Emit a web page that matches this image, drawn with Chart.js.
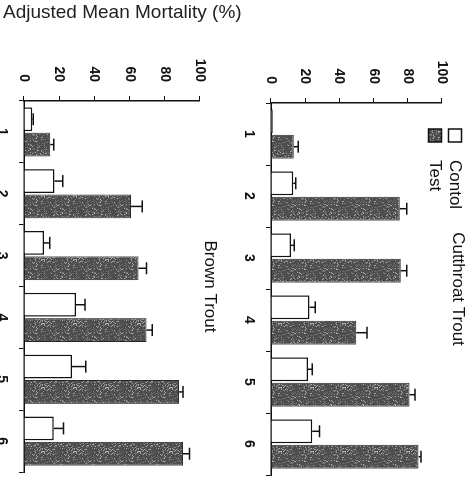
<!DOCTYPE html>
<html lang="en">
<head>
<meta charset="UTF-8">
<title>Adjusted Mean Mortality</title>
<script src="https://cdn.jsdelivr.net/npm/chart.js"></script>
<style>
    body { margin: 0; background: #fff; overflow: hidden; font-family: "Liberation Sans", Arial, sans-serif; }
    #ytitle { position: absolute; left: 3px; top: 0; font-size: 19px; line-height: 24px; color: #222; white-space: nowrap; }
    /* figure is drawn upright, then turned a quarter clockwise like the scan */
    #figure { position: absolute; left: 0; top: 0; width: 486px; height: 474px;
              transform-origin: 0 0; transform: translate(474px, 0) rotate(90deg); }
    canvas { display: block; }
</style>
</head>
<body>
<div id="figure">
    <canvas id="cutthroat" width="486" height="237"></canvas>
    <canvas id="brown" width="486" height="237"></canvas>
</div>
<div id="ytitle">Adjusted Mean Mortality (%)</div>

<script>
    const categories = ['1', '2', '3', '4', '5', '6'];
    const valueTicks = [0, 20, 40, 60, 80, 100];

    const cutControl    = [1, 13, 11.7, 22.6, 21.7, 24.2];
    const cutControlErr = [0, 1.5, 2, 3.4, 2.5, 4.2];
    const cutTest       = [13.4, 75.4, 76, 49.9, 81.2, 86.4];
    const cutTestErr    = [2.5, 4.2, 3.6, 6.3, 3.2, 1.5];

    const brownControl    = [4.7, 17.4, 11.4, 29.6, 27.3, 16.9];
    const brownControlErr = [0.5, 4.7, 3.2, 5.2, 7.9, 5.6];
    const brownTest       = [15, 61, 65.2, 69.8, 88.2, 90.6];
    const brownTestErr    = [1.9, 6.4, 4.6, 3.2, 2.4, 3.6];

    Chart.defaults.font.family = '"Liberation Sans", Arial, sans-serif';
    Chart.defaults.color = '#111';

    // grainy dark fill like the printed test bars (fixed seed, texture only)
    function speckle() {
        const c = document.createElement('canvas');
        c.width = c.height = 32;
        const g = c.getContext('2d');
        g.fillStyle = '#4e4e4e';
        g.fillRect(0, 0, 32, 32);
        let s = 12345;
        const next = () => (s = (s * 16807) % 2147483647) / 2147483647;
        for (let y = 0; y < 32; y++) {
            for (let x = 0; x < 32; x++) {
                const r = next();
                if (r < 0.10) { g.fillStyle = '#a8a8a8'; g.fillRect(x, y, 1, 1); }
                else if (r < 0.22) { g.fillStyle = '#747474'; g.fillRect(x, y, 1, 1); }
            }
        }
        return g.createPattern(c, 'repeat');
    }
    const testFill = speckle();

    const errorBars = {
        id: 'errorBars',
        afterDatasetsDraw(chart) {
            const ctx = chart.ctx, y = chart.scales.y;
            ctx.save();
            ctx.strokeStyle = '#111';
            ctx.lineWidth = 1.5;
            chart.data.datasets.forEach((ds, i) => {
                chart.getDatasetMeta(i).data.forEach((bar, j) => {
                    if (!ds.errors[j]) return;
                    const top = y.getPixelForValue(ds.data[j] + ds.errors[j]);
                    ctx.beginPath();
                    ctx.moveTo(bar.x, bar.y);
                    ctx.lineTo(bar.x, top);
                    ctx.moveTo(bar.x - 6, top);
                    ctx.lineTo(bar.x + 6, top);
                    ctx.stroke();
                });
            });
            ctx.restore();
        }
    };

    const boxLegend = {
        id: 'boxLegend',
        afterDraw(chart, args, opts) {
            if (!opts.show) return;
            const ctx = chart.ctx;
            ctx.save();
            chart.data.datasets.forEach((ds, i) => {
                const y = opts.y + i * opts.gap;
                ctx.fillStyle = ds.backgroundColor;
                ctx.fillRect(opts.x, y - 6.5, 13, 13);
                ctx.strokeStyle = '#111';
                ctx.lineWidth = 1.5;
                ctx.strokeRect(opts.x, y - 6.5, 13, 13);
                ctx.fillStyle = '#111';
                ctx.font = '17px "Liberation Sans", Arial, sans-serif';
                ctx.textBaseline = 'middle';
                ctx.fillText(ds.label, opts.x + 31, y);
            });
            ctx.restore();
        }
    };

    function panel(id, name, control, controlErr, test, testErr, o) {
        return new Chart(document.getElementById(id), {
            type: 'bar',
            data: {
                labels: categories,
                datasets: [
                    { label: 'Contol', data: control, errors: controlErr, backgroundColor: '#fff', borderColor: '#111', borderWidth: 1.5 },
                    { label: 'Test', data: test, errors: testErr, backgroundColor: testFill, borderColor: '#2a2a2a', borderWidth: 1 }
                ]
            },
            options: {
                responsive: false,
                animation: false,
                layout: { padding: { top: 0, right: o.padRight, bottom: 0, left: 0 } },
                datasets: { bar: { categoryPercentage: 0.82, barPercentage: 0.94 } },
                plugins: {
                    legend: { display: false },
                    tooltip: { enabled: false },
                    title: { display: true, fullSize: false, text: name, font: { size: 17, weight: 'normal' }, color: '#111', padding: o.titlePad },
                    boxLegend: { show: o.legend, x: 129, y: 19, gap: 20 }
                },
                scales: {
                    x: {
                        grid: { offset: true, drawOnChartArea: false, color: '#111', tickLength: 5 },
                        border: { color: '#111', width: 1.5 },
                        ticks: { font: { size: 14, weight: 'bold' }, padding: 9 },
                        afterFit: s => { s.height = o.xHeight; }
                    },
                    y: {
                        min: 0, max: 100,
                        grid: { drawOnChartArea: false, color: '#111', tickLength: 5 },
                        border: { color: '#111', width: 1.5 },
                        ticks: { stepSize: 10, padding: 14, font: { size: 14, weight: 'bold' },
                                 callback: v => valueTicks.includes(v) ? v : '' },
                        afterFit: s => { s.width = o.yWidth; }
                    }
                }
            },
            plugins: [errorBars, boxLegend]
        });
    }

    panel('cutthroat', 'Cutthroat Trout', cutControl, cutControlErr, cutTest, cutTestErr,
        { padRight: 11, titlePad: { top: 6, bottom: 6 }, xHeight: 34, yWidth: 103, legend: true });
    panel('brown', 'Brown Trout', brownControl, brownControlErr, brownTest, brownTestErr,
        { padRight: 14, titlePad: { top: 17, bottom: 0 }, xHeight: 24, yWidth: 101, legend: false });
</script>
</body>
</html>
